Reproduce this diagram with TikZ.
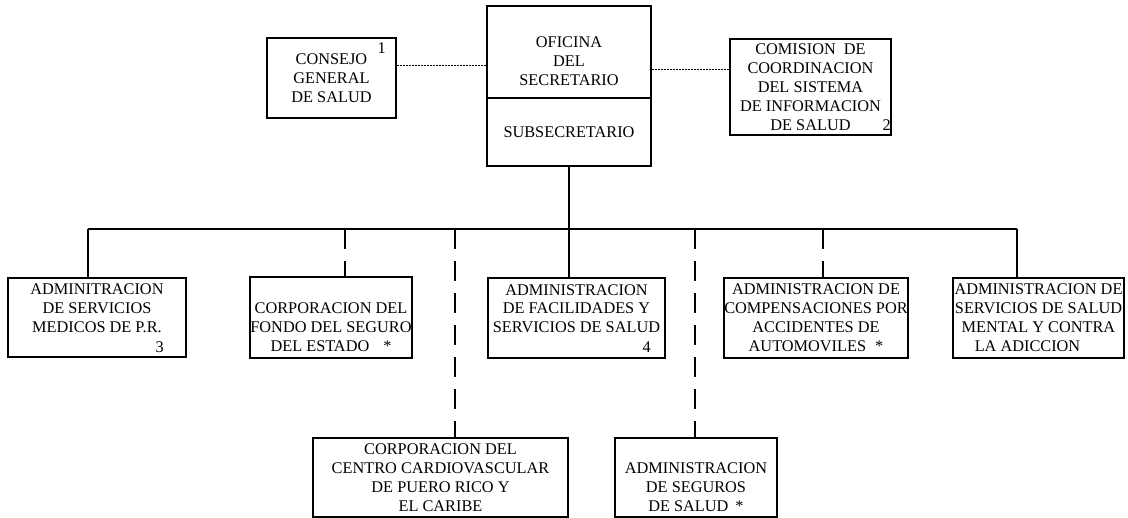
\documentclass[tikz,border=0pt]{standalone}
\usepackage{fontspec}
\setmainfont{Liberation Serif}
\begin{document}
\begin{tikzpicture}[x=1pt, y=-1pt,
    caja/.style={draw, line width=1.8pt, rectangle, inner sep=0pt, align=center,
      font=\fontsize{16.3}{18.9}\selectfont},
    nota/.style={inner sep=0pt, anchor=east, font=\fontsize{16.3}{18.9}\selectfont},
    linea/.style={line width=1.8pt},
    rayas/.style={line width=1.8pt, dash pattern=on 20pt off 12pt},
    puntos/.style={line width=1pt, dash pattern=on 2pt off 1pt}]
    \useasboundingbox (0,0) rectangle (1128,518);

    \node[caja, minimum width=129pt, minimum height=80pt] (consejo) at (331.5,78) {CONSEJO\\GENERAL\\DE SALUD};
    \node[caja, minimum width=164pt, minimum height=92pt] (ofi) at (569,52) {\vphantom{X}\\OFICINA\\DEL\\SECRETARIO};
    \node[caja, minimum width=164pt, minimum height=68pt] (sub) at (569,132) {SUBSECRETARIO};
    \node[caja, minimum width=161pt, minimum height=96pt] (comision) at (810.5,87) {COMISION\hspace{8pt}DE\\COORDINACION\\DEL SISTEMA\\DE INFORMACION\\DE SALUD};
    \node[nota] (n1) at (386,48) {1};
    \node[nota] (n2) at (891,125) {2};

    \node[caja, minimum width=178pt, minimum height=79pt] (a1) at (97,317.5) {ADMINITRACION\\DE SERVICIOS\\MEDICOS DE P.R.\\\vphantom{X}};
    \node[caja, minimum width=162pt, minimum height=81pt] (a2) at (331,317.5) {\vphantom{X}\\CORPORACION DEL\\FONDO DEL SEGURO\\DEL ESTADO\hspace{14pt}*};
    \node[caja, minimum width=177pt, minimum height=80pt] (a3) at (576.5,318) {ADMINISTRACION\\DE FACILIDADES Y\\SERVICIOS DE SALUD\\\vphantom{X}};
    \node[caja, minimum width=178pt, minimum height=80pt] (a4) at (816,318) {ADMINISTRACION DE\\COMPENSACIONES POR\\ACCIDENTES DE\\AUTOMOVILES\hspace{9pt}*};
    \node[caja, minimum width=171pt, minimum height=80pt] (a5) at (1038.5,318) {ADMINISTRACION DE\\SERVICIOS DE SALUD\\MENTAL Y CONTRA\\LA ADICCION\hspace*{22pt}};
    \node[nota] (n3) at (164,347) {3};
    \node[nota] (n4) at (651,347) {4};

    \node[caja, minimum width=255pt, minimum height=79pt] (b1) at (440.5,477.5) {CORPORACION DEL\\CENTRO CARDIOVASCULAR\\DE PUERO RICO Y\\EL CARIBE};
    \node[caja, minimum width=162pt, minimum height=79pt] (b2) at (696,477.5) {\vphantom{X}\\ADMINISTRACION\\DE SEGUROS\\DE SALUD\hspace{7pt}*};

    \foreach \x/\n in {88/t1, 345/t2, 455/t3, 695/t5, 823/t6, 1017/t7}
      \coordinate (\n) at (\x,229);

    \draw[puntos] (consejo.east |- 0,66) -- (ofi.west |- 0,66);
    \draw[puntos] (ofi.east |- 0,70) -- (comision.west |- 0,70);
    \draw[linea] (sub.south) -- (sub.south |- a3.north);
    \draw[linea] (t1) -- (t7);
    \draw[linea] (t1) -- (t1 |- a1.north);
    \draw[linea] (t7) -- (t7 |- a5.north);
    \draw[rayas] (t2) -- (t2 |- a2.north);
    \draw[rayas] (t3) -- (t3 |- b1.north);
    \draw[rayas] (t5) -- (t5 |- b2.north);
    \draw[rayas] (t6) -- (t6 |- a4.north);
\end{tikzpicture}
\end{document}
